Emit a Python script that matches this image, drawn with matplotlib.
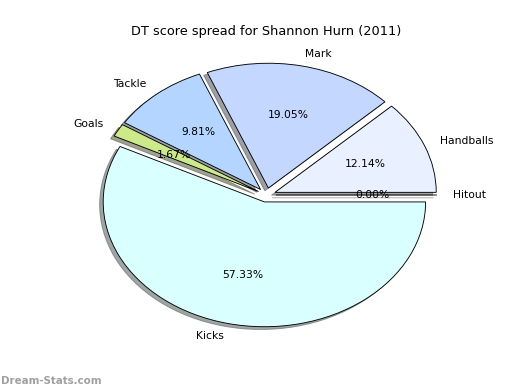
import matplotlib
matplotlib.use("Agg")
import matplotlib.pyplot as plt

# Data
labels = ['Hitout', 'Handballs', 'Mark', 'Tackle', 'Goals', 'Kicks']
shares = [0.00, 12.14, 19.05, 9.81, 1.67, 57.33]
colors = ['#ffffff', '#e9f0ff', '#c4d8ff', '#b4d5ff', '#cdea8a', '#d9ffff']
explode = [0.057] * len(labels)

fig = plt.figure(figsize=(6.5, 4.875), dpi=80)
ax = fig.add_axes([0.125, 0.1, 0.775, 0.8])

wedges, texts, autotexts = ax.pie(shares, labels=labels, colors=colors, explode=explode,
                                  autopct='%1.2f%%', shadow=True,
                                  wedgeprops={'edgecolor': 'black', 'linewidth': 0.8},
                                  textprops={'fontsize': 9.7})
ax.set_aspect('auto')
ax.set_xlim(-1.25, 1.25)
ax.set_ylim(-1.25, 1.25)
ax.set_title('DT score spread for Shannon Hurn (2011)', fontsize=11.6, pad=4)

fig.text(0.002, 0.016, 'Dream-Stats.com', color='#a0a0a0', fontsize=9.2,
         fontweight='bold')

fig.savefig('out.png', dpi=80)
